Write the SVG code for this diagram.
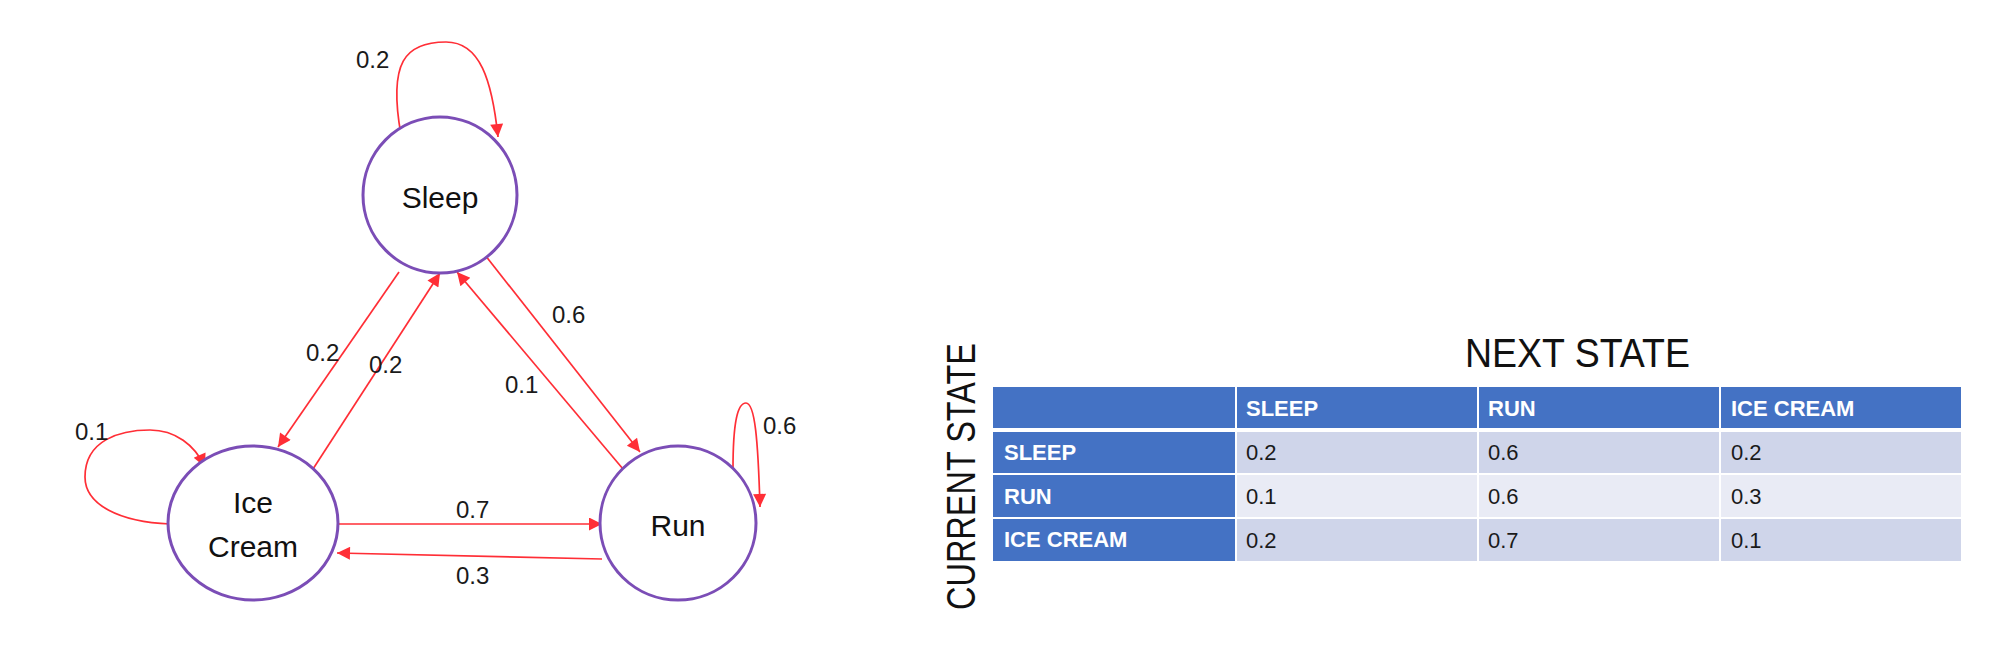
<svg xmlns="http://www.w3.org/2000/svg" width="1996" height="666" viewBox="0 0 1996 666">
<style>
.node{fill:#fff;stroke:#7B4DB6;stroke-width:3}
.nl{font-family:"Liberation Sans",Arial,sans-serif;font-size:30px;fill:#111;text-anchor:middle}
.edge{fill:none;stroke:#FF2E36;stroke-width:1.7}
.el{font-family:"Liberation Sans",Arial,sans-serif;font-size:24px;fill:#1a1a1a}
.hd{fill:#4472C4}
.r1{fill:#CFD5EA}
.r2{fill:#E9EBF5}
.th{font-family:"Liberation Sans",Arial,sans-serif;font-size:22px;font-weight:bold;fill:#fff}
.td{font-family:"Liberation Sans",Arial,sans-serif;font-size:22px;fill:#1a1a1a}
.big{font-family:"Liberation Sans",Arial,sans-serif;font-size:40px;fill:#111}
</style>
<defs>
<marker id="arr" viewBox="0 0 10 10" refX="10" refY="5" markerWidth="16" markerHeight="13" markerUnits="userSpaceOnUse" orient="auto">
<path d="M0,0 L10,5 L0,10 z" fill="#FF2E36"/>
</marker>
</defs>
<g id="connectors">
<path class="edge" marker-end="url(#arr)" d="M 401,135 C 388,62 405,42 446,42 C 480,42 492,80 498,137"/>
<text class="el" x="356" y="68">0.2</text>
<path class="edge" marker-end="url(#arr)" d="M 399,272 L 278,447"/>
<text class="el" x="306" y="361">0.2</text>
<path class="edge" marker-end="url(#arr)" d="M 313,469 L 440,273"/>
<text class="el" x="369" y="373">0.2</text>
<path class="edge" marker-end="url(#arr)" d="M 623,469 L 457,272"/>
<text class="el" x="505" y="393">0.1</text>
<path class="edge" marker-end="url(#arr)" d="M 485,255 L 640,452"/>
<text class="el" x="552" y="323">0.6</text>
<path class="edge" marker-end="url(#arr)" d="M 337,524 L 602,524"/>
<text class="el" x="456" y="518">0.7</text>
<path class="edge" marker-end="url(#arr)" d="M 602,559 L 337,553"/>
<text class="el" x="456" y="584">0.3</text>
<path class="edge" marker-end="url(#arr)" d="M 170,524 C 120,522 85,505 85,477 C 85,440 120,430 150,430 C 175,430 195,445 205,467"/>
<text class="el" x="75" y="440">0.1</text>
<path class="edge" marker-end="url(#arr)" d="M 733,469 C 733,420 738,403 746,403 C 755,403 758,440 760,507"/>
<text class="el" x="763" y="434">0.6</text>
</g>
<g id="node-sleep">
<ellipse class="node" cx="440" cy="195" rx="77" ry="78"/>
<text class="nl" x="440" y="208">Sleep</text>
</g>
<g id="node-icecream">
<ellipse class="node" cx="253" cy="523" rx="85" ry="77"/>
<text class="nl" x="253" y="513">Ice</text>
<text class="nl" x="253" y="557">Cream</text>
</g>
<g id="node-run">
<ellipse class="node" cx="678" cy="523" rx="78" ry="77"/>
<text class="nl" x="678" y="536">Run</text>
</g>
<g id="table">
<text class="big" x="1465" y="367" textLength="225" lengthAdjust="spacingAndGlyphs">NEXT STATE</text>
<text class="big" transform="translate(975,610) rotate(-90)" x="0" y="0" textLength="267" lengthAdjust="spacingAndGlyphs">CURRENT STATE</text>
<rect class="hd" x="993" y="387" width="242" height="41"/>
<rect class="hd" x="1237" y="387" width="240" height="41"/>
<rect class="hd" x="1479" y="387" width="240" height="41"/>
<rect class="hd" x="1721" y="387" width="240" height="41"/>
<rect class="hd" x="993" y="432" width="242" height="41"/>
<rect class="r1" x="1237" y="432" width="240" height="41"/>
<rect class="r1" x="1479" y="432" width="240" height="41"/>
<rect class="r1" x="1721" y="432" width="240" height="41"/>
<rect class="hd" x="993" y="475" width="242" height="42"/>
<rect class="r2" x="1237" y="475" width="240" height="42"/>
<rect class="r2" x="1479" y="475" width="240" height="42"/>
<rect class="r2" x="1721" y="475" width="240" height="42"/>
<rect class="hd" x="993" y="519" width="242" height="42"/>
<rect class="r1" x="1237" y="519" width="240" height="42"/>
<rect class="r1" x="1479" y="519" width="240" height="42"/>
<rect class="r1" x="1721" y="519" width="240" height="42"/>
<text class="th" x="1246" y="416">SLEEP</text>
<text class="th" x="1488" y="416">RUN</text>
<text class="th" x="1731" y="416">ICE CREAM</text>
<text class="th" x="1004" y="460">SLEEP</text>
<text class="th" x="1004" y="504">RUN</text>
<text class="th" x="1004" y="547">ICE CREAM</text>
<text class="td" x="1246" y="460">0.2</text>
<text class="td" x="1488" y="460">0.6</text>
<text class="td" x="1731" y="460">0.2</text>
<text class="td" x="1246" y="504">0.1</text>
<text class="td" x="1488" y="504">0.6</text>
<text class="td" x="1731" y="504">0.3</text>
<text class="td" x="1246" y="548">0.2</text>
<text class="td" x="1488" y="548">0.7</text>
<text class="td" x="1731" y="548">0.1</text>
</g>
</svg>
